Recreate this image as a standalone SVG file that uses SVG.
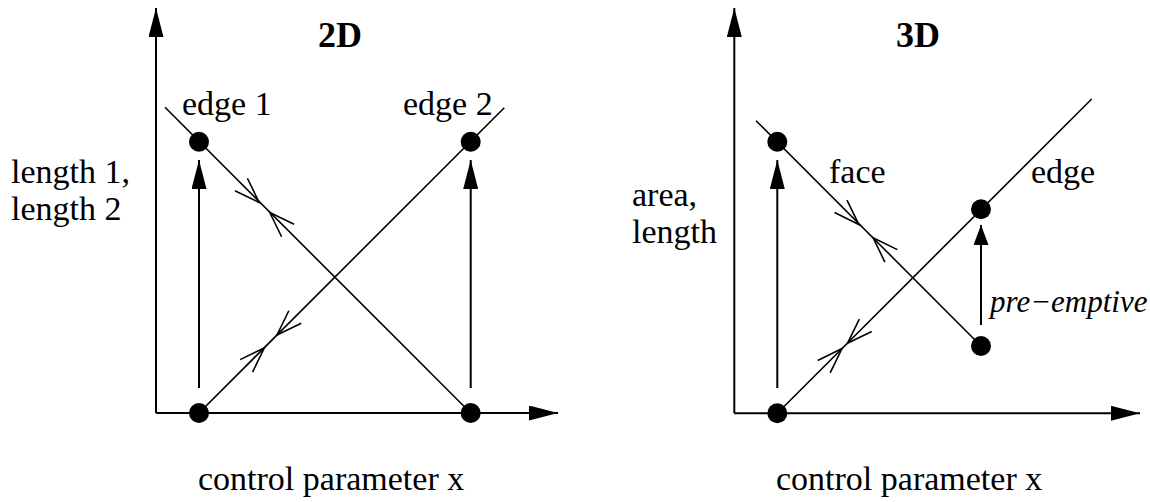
<svg xmlns="http://www.w3.org/2000/svg" xmlns:xlink="http://www.w3.org/1999/xlink" width="1150" height="502" viewBox="0 0 1150 502">
  <style>
    .axis { stroke:#000; stroke-width:2; fill:none; }
    .ln { stroke:#000; stroke-width:1.6; fill:none; }
    .chev { stroke:#000; stroke-width:1.6; fill:none; }
    .dot { fill:#000; }
    .t { font-family:"Liberation Serif","Times New Roman",serif; font-size:34px; fill:#000; }
    .b { font-family:"Liberation Serif","Times New Roman",serif; font-size:36px; font-weight:bold; fill:#000; }
    .i { font-family:"Liberation Serif","Times New Roman",serif; font-size:31px; font-style:italic; fill:#000; }
  </style>
  <defs>
    <marker id="ah" viewBox="0 0 29 15" refX="29" refY="7.5" markerWidth="29" markerHeight="15" markerUnits="userSpaceOnUse" orient="auto">
      <path d="M0,0 L29,7.5 L0,15 Z" fill="#000"/>
    </marker>
    <marker id="ahs" viewBox="0 0 20 15" refX="20" refY="7.5" markerWidth="20" markerHeight="15" markerUnits="userSpaceOnUse" orient="auto">
      <path d="M0,0 L20,7.5 L0,15 Z" fill="#000"/>
    </marker>
    <path id="chev" class="chev" d="M-25.5,-8.8 L0,0 L-25.5,8.8"/>
  </defs>

  <g id="connectors">
    <!-- left panel axes -->
    <line class="axis" x1="156" y1="413" x2="156" y2="8" marker-end="url(#ah)"/>
    <line class="axis" x1="156" y1="413" x2="558" y2="413" marker-end="url(#ah)"/>
    <!-- left panel curves -->
    <line class="ln" x1="165" y1="107.3" x2="470.7" y2="413"/>
    <line class="ln" x1="199" y1="413" x2="504.3" y2="107.7"/>
    <use href="#chev" transform="translate(259.2,202.5) rotate(45)"/>
    <use href="#chev" transform="translate(269.8,212.5) rotate(225)"/>
    <use href="#chev" transform="translate(277,335) rotate(135)"/>
    <use href="#chev" transform="translate(264.4,347.8) rotate(-45)"/>
    <!-- left panel jumps -->
    <line class="axis" x1="199" y1="388" x2="199" y2="160" marker-end="url(#ah)"/>
    <line class="axis" x1="470.7" y1="388" x2="470.7" y2="160" marker-end="url(#ah)"/>

    <!-- right panel axes -->
    <line class="axis" x1="734.3" y1="413.3" x2="734.3" y2="8" marker-end="url(#ah)"/>
    <line class="axis" x1="734.3" y1="413.3" x2="1140" y2="413.3" marker-end="url(#ah)"/>
    <!-- right panel curves -->
    <line class="ln" x1="756" y1="120.7" x2="981" y2="346"/>
    <line class="ln" x1="777.3" y1="413.3" x2="1091.7" y2="99"/>
    <use href="#chev" transform="translate(858.8,224.4) rotate(45)"/>
    <use href="#chev" transform="translate(873.1,237.8) rotate(225)"/>
    <use href="#chev" transform="translate(847.5,343.3) rotate(135)"/>
    <use href="#chev" transform="translate(842,348.6) rotate(-45)"/>
    <!-- right panel jumps -->
    <line class="axis" x1="777.3" y1="388" x2="777.3" y2="160" marker-end="url(#ah)"/>
    <line class="axis" x1="981" y1="325" x2="981" y2="225" marker-end="url(#ahs)"/>
  </g>

  <g id="node-2d-bottom-left"><circle class="dot" cx="199" cy="413" r="10"/></g>
  <g id="node-2d-bottom-right"><circle class="dot" cx="470.7" cy="413" r="10"/></g>
  <g id="node-2d-edge1"><circle class="dot" cx="199" cy="141.7" r="10"/></g>
  <g id="node-2d-edge2"><circle class="dot" cx="470.7" cy="141.7" r="10"/></g>

  <g id="node-3d-bottom-left"><circle class="dot" cx="777.3" cy="413.3" r="10"/></g>
  <g id="node-3d-face"><circle class="dot" cx="777.3" cy="141.7" r="10"/></g>
  <g id="node-3d-edge"><circle class="dot" cx="981" cy="209.3" r="10"/></g>
  <g id="node-3d-lower"><circle class="dot" cx="981" cy="346" r="10"/></g>

  <g id="labels">
    <text class="b" x="340" y="47" text-anchor="middle">2D</text>
    <text class="b" x="918" y="47" text-anchor="middle">3D</text>
    <text class="t" x="182" y="115">edge 1</text>
    <text class="t" x="403" y="115">edge 2</text>
    <text class="t" x="11" y="183">length 1,</text>
    <text class="t" x="11" y="220">length 2</text>
    <text class="t" x="829" y="183">face</text>
    <text class="t" x="1031" y="183">edge</text>
    <text class="t" x="632" y="206">area,</text>
    <text class="t" x="632" y="243">length</text>
    <text class="i" x="990" y="312">pre−emptive</text>
    <text class="t" x="198" y="490">control parameter x</text>
    <text class="t" x="776" y="490">control parameter x</text>
  </g>
</svg>
